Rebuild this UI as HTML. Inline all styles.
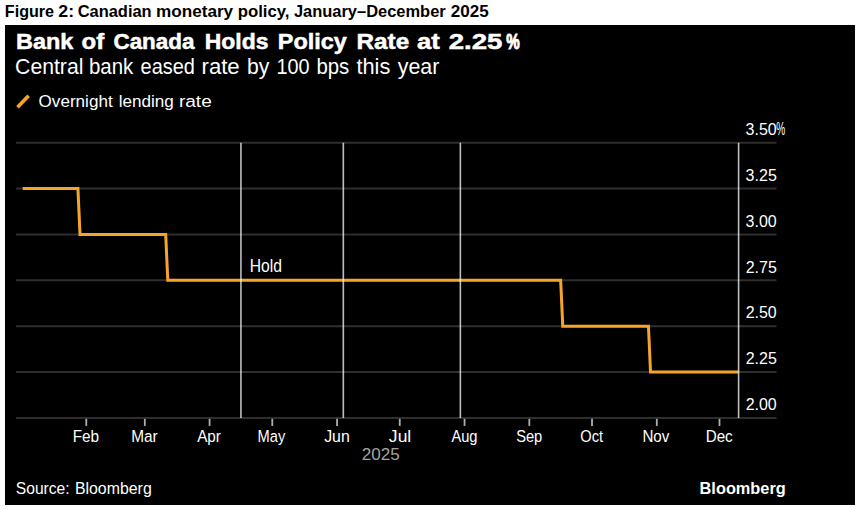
<!DOCTYPE html><html><head><meta charset="utf-8"><style>html,body{margin:0;padding:0;background:#fff;width:861px;height:510px;overflow:hidden}svg{display:block}text{font-family:"Liberation Sans",sans-serif}</style></head><body>
<svg width="861" height="510" viewBox="0 0 861 510">
<rect x="0" y="0" width="861" height="510" fill="#fff"/>
<rect x="5" y="25" width="850" height="480" fill="#000"/>
<line x1="17.5" y1="107.2" x2="28.6" y2="95.7" stroke="#f7a42b" stroke-width="3.6"/>
<line x1="16" y1="142.70" x2="776.5" y2="142.70" stroke="#2e2e2e" stroke-width="2"/>
<line x1="16" y1="188.57" x2="776.5" y2="188.57" stroke="#2e2e2e" stroke-width="2"/>
<line x1="16" y1="234.44" x2="776.5" y2="234.44" stroke="#2e2e2e" stroke-width="2"/>
<line x1="16" y1="280.31" x2="776.5" y2="280.31" stroke="#2e2e2e" stroke-width="2"/>
<line x1="16" y1="326.18" x2="776.5" y2="326.18" stroke="#2e2e2e" stroke-width="2"/>
<line x1="16" y1="372.05" x2="776.5" y2="372.05" stroke="#2e2e2e" stroke-width="2"/>
<line x1="16" y1="417.92" x2="776.5" y2="417.92" stroke="#2e2e2e" stroke-width="2"/>
<line x1="86.28" y1="418.82" x2="86.28" y2="425.92" stroke="#b0b0b0" stroke-width="1.8"/>
<line x1="144.80" y1="418.82" x2="144.80" y2="425.92" stroke="#b0b0b0" stroke-width="1.8"/>
<line x1="209.58" y1="418.82" x2="209.58" y2="425.92" stroke="#b0b0b0" stroke-width="1.8"/>
<line x1="272.28" y1="418.82" x2="272.28" y2="425.92" stroke="#b0b0b0" stroke-width="1.8"/>
<line x1="337.06" y1="418.82" x2="337.06" y2="425.92" stroke="#b0b0b0" stroke-width="1.8"/>
<line x1="399.75" y1="418.82" x2="399.75" y2="425.92" stroke="#b0b0b0" stroke-width="1.8"/>
<line x1="464.54" y1="418.82" x2="464.54" y2="425.92" stroke="#b0b0b0" stroke-width="1.8"/>
<line x1="529.32" y1="418.82" x2="529.32" y2="425.92" stroke="#b0b0b0" stroke-width="1.8"/>
<line x1="592.02" y1="418.82" x2="592.02" y2="425.92" stroke="#b0b0b0" stroke-width="1.8"/>
<line x1="656.80" y1="418.82" x2="656.80" y2="425.92" stroke="#b0b0b0" stroke-width="1.8"/>
<line x1="719.49" y1="418.82" x2="719.49" y2="425.92" stroke="#b0b0b0" stroke-width="1.8"/>
<polyline points="22.70,188.57 77.92,188.57 80.01,234.44 165.70,234.44 167.79,280.31 560.67,280.31 562.76,326.18 648.44,326.18 650.53,372.05 738.50,372.05" fill="none" stroke="#f7a42b" stroke-width="3.0" stroke-linejoin="miter" stroke-linecap="butt"/>
<line x1="240.93" y1="142.70" x2="240.93" y2="417.92" stroke="#fff" stroke-opacity="0.74" stroke-width="1.6"/>
<line x1="343.33" y1="142.70" x2="343.33" y2="417.92" stroke="#fff" stroke-opacity="0.74" stroke-width="1.6"/>
<line x1="460.36" y1="142.70" x2="460.36" y2="417.92" stroke="#fff" stroke-opacity="0.74" stroke-width="1.6"/>
<line x1="738.6" y1="142.70" x2="738.6" y2="417.92" stroke="#fff" stroke-opacity="0.74" stroke-width="1.6"/>
<text x="4.80" y="16.70" font-size="17.00" font-weight="bold" fill="#000" textLength="49.30" lengthAdjust="spacingAndGlyphs">Figure</text>
<text x="58.33" y="16.70" font-size="17.00" font-weight="bold" fill="#000" textLength="15.74" lengthAdjust="spacingAndGlyphs">2:</text>
<text x="77.63" y="16.70" font-size="17.00" font-weight="bold" fill="#000" textLength="74.06" lengthAdjust="spacingAndGlyphs">Canadian</text>
<text x="155.96" y="16.70" font-size="17.00" font-weight="bold" fill="#000" textLength="77.18" lengthAdjust="spacingAndGlyphs">monetary</text>
<text x="237.65" y="16.70" font-size="17.00" font-weight="bold" fill="#000" textLength="51.88" lengthAdjust="spacingAndGlyphs">policy,</text>
<text x="293.89" y="16.70" font-size="17.00" font-weight="bold" fill="#000" textLength="151.83" lengthAdjust="spacingAndGlyphs">January–December</text>
<text x="450.87" y="16.70" font-size="17.00" font-weight="bold" fill="#000" textLength="37.96" lengthAdjust="spacingAndGlyphs">2025</text>
<text x="16.02" y="48.90" font-size="21.50" font-weight="bold" fill="#fff" stroke="#fff" stroke-width="0.5" textLength="57.41" lengthAdjust="spacingAndGlyphs">Bank</text>
<text x="81.59" y="48.90" font-size="21.50" font-weight="bold" fill="#fff" stroke="#fff" stroke-width="0.5" textLength="22.58" lengthAdjust="spacingAndGlyphs">of</text>
<text x="113.46" y="48.90" font-size="21.50" font-weight="bold" fill="#fff" stroke="#fff" stroke-width="0.5" textLength="80.98" lengthAdjust="spacingAndGlyphs">Canada</text>
<text x="204.77" y="48.90" font-size="21.50" font-weight="bold" fill="#fff" stroke="#fff" stroke-width="0.5" textLength="63.70" lengthAdjust="spacingAndGlyphs">Holds</text>
<text x="277.83" y="48.90" font-size="21.50" font-weight="bold" fill="#fff" stroke="#fff" stroke-width="0.5" textLength="68.98" lengthAdjust="spacingAndGlyphs">Policy</text>
<text x="356.49" y="48.90" font-size="21.50" font-weight="bold" fill="#fff" stroke="#fff" stroke-width="0.5" textLength="52.67" lengthAdjust="spacingAndGlyphs">Rate</text>
<text x="416.95" y="48.90" font-size="21.50" font-weight="bold" fill="#fff" stroke="#fff" stroke-width="0.5" textLength="22.84" lengthAdjust="spacingAndGlyphs">at</text>
<text x="448.71" y="48.90" font-size="21.50" font-weight="bold" fill="#fff" stroke="#fff" stroke-width="0.5" textLength="53.70" lengthAdjust="spacingAndGlyphs">2.25</text>
<text x="506.34" y="48.90" font-size="21.50" font-weight="bold" fill="#fff" stroke="#fff" stroke-width="1.1" textLength="13.44" lengthAdjust="spacingAndGlyphs">%</text>
<text x="15.10" y="73.60" font-size="21.80" font-weight="normal" fill="#fff" textLength="68.33" lengthAdjust="spacingAndGlyphs">Central</text>
<text x="88.93" y="73.60" font-size="21.80" font-weight="normal" fill="#fff" textLength="44.32" lengthAdjust="spacingAndGlyphs">bank</text>
<text x="140.60" y="73.60" font-size="21.80" font-weight="normal" fill="#fff" textLength="54.36" lengthAdjust="spacingAndGlyphs">eased</text>
<text x="201.50" y="73.60" font-size="21.80" font-weight="normal" fill="#fff" textLength="38.19" lengthAdjust="spacingAndGlyphs">rate</text>
<text x="247.01" y="73.60" font-size="21.80" font-weight="normal" fill="#fff" textLength="22.38" lengthAdjust="spacingAndGlyphs">by</text>
<text x="276.56" y="73.60" font-size="21.80" font-weight="normal" fill="#fff" textLength="33.09" lengthAdjust="spacingAndGlyphs">100</text>
<text x="316.46" y="73.60" font-size="21.80" font-weight="normal" fill="#fff" textLength="32.87" lengthAdjust="spacingAndGlyphs">bps</text>
<text x="356.38" y="73.60" font-size="21.80" font-weight="normal" fill="#fff" textLength="33.97" lengthAdjust="spacingAndGlyphs">this</text>
<text x="397.73" y="73.60" font-size="21.80" font-weight="normal" fill="#fff" textLength="41.56" lengthAdjust="spacingAndGlyphs">year</text>
<text x="38.58" y="106.80" font-size="17.10" font-weight="normal" fill="#fff" textLength="74.07" lengthAdjust="spacingAndGlyphs">Overnight</text>
<text x="118.81" y="106.80" font-size="17.10" font-weight="normal" fill="#fff" textLength="55.07" lengthAdjust="spacingAndGlyphs">lending</text>
<text x="178.92" y="106.80" font-size="17.10" font-weight="normal" fill="#fff" textLength="32.87" lengthAdjust="spacingAndGlyphs">rate</text>
<text x="15.78" y="493.80" font-size="16.70" font-weight="normal" fill="#fff" textLength="53.89" lengthAdjust="spacingAndGlyphs">Source:</text>
<text x="74.89" y="493.80" font-size="16.70" font-weight="normal" fill="#fff" textLength="76.88" lengthAdjust="spacingAndGlyphs">Bloomberg</text>
<text x="699.58" y="494.00" font-size="16.10" font-weight="bold" fill="#fff" textLength="86.18" lengthAdjust="spacingAndGlyphs">Bloomberg</text>
<text x="249.67" y="271.50" font-size="17.60" font-weight="normal" fill="#fff" textLength="32.23" lengthAdjust="spacingAndGlyphs">Hold</text>
<text x="361.65" y="459.90" font-size="17.20" font-weight="normal" fill="#a4a4a4" textLength="38.00" lengthAdjust="spacingAndGlyphs">2025</text>
<text x="72.68" y="441.70" font-size="17.20" font-weight="normal" fill="#fff" textLength="26.41" lengthAdjust="spacingAndGlyphs">Feb</text>
<text x="131.22" y="441.70" font-size="17.20" font-weight="normal" fill="#fff" textLength="26.51" lengthAdjust="spacingAndGlyphs">Mar</text>
<text x="197.18" y="441.70" font-size="17.20" font-weight="normal" fill="#fff" textLength="23.78" lengthAdjust="spacingAndGlyphs">Apr</text>
<text x="257.54" y="441.70" font-size="17.20" font-weight="normal" fill="#fff" textLength="27.69" lengthAdjust="spacingAndGlyphs">May</text>
<text x="324.17" y="441.70" font-size="17.20" font-weight="normal" fill="#fff" textLength="25.63" lengthAdjust="spacingAndGlyphs">Jun</text>
<text x="388.89" y="441.70" font-size="17.20" font-weight="normal" fill="#fff" textLength="22.39" lengthAdjust="spacingAndGlyphs">Jul</text>
<text x="451.43" y="441.70" font-size="17.20" font-weight="normal" fill="#fff" textLength="26.12" lengthAdjust="spacingAndGlyphs">Aug</text>
<text x="516.13" y="441.70" font-size="17.20" font-weight="normal" fill="#fff" textLength="26.15" lengthAdjust="spacingAndGlyphs">Sep</text>
<text x="580.32" y="441.70" font-size="17.20" font-weight="normal" fill="#fff" textLength="22.86" lengthAdjust="spacingAndGlyphs">Oct</text>
<text x="642.38" y="441.70" font-size="17.20" font-weight="normal" fill="#fff" textLength="26.92" lengthAdjust="spacingAndGlyphs">Nov</text>
<text x="705.69" y="441.70" font-size="17.20" font-weight="normal" fill="#fff" textLength="26.99" lengthAdjust="spacingAndGlyphs">Dec</text>
<text x="745.61" y="135.00" font-size="17.30" font-weight="normal" fill="#fff" textLength="31.15" lengthAdjust="spacingAndGlyphs">3.50</text>
<text x="745.61" y="180.87" font-size="17.30" font-weight="normal" fill="#fff" textLength="31.22" lengthAdjust="spacingAndGlyphs">3.25</text>
<text x="745.61" y="226.74" font-size="17.30" font-weight="normal" fill="#fff" textLength="31.15" lengthAdjust="spacingAndGlyphs">3.00</text>
<text x="745.68" y="272.61" font-size="17.30" font-weight="normal" fill="#fff" textLength="31.13" lengthAdjust="spacingAndGlyphs">2.75</text>
<text x="745.66" y="318.48" font-size="17.30" font-weight="normal" fill="#fff" textLength="31.10" lengthAdjust="spacingAndGlyphs">2.50</text>
<text x="745.68" y="364.35" font-size="17.30" font-weight="normal" fill="#fff" textLength="31.13" lengthAdjust="spacingAndGlyphs">2.25</text>
<text x="745.66" y="410.22" font-size="17.30" font-weight="normal" fill="#fff" textLength="31.10" lengthAdjust="spacingAndGlyphs">2.00</text>
<text x="776.15" y="135.00" font-size="18.50" font-weight="normal" fill="#fff" textLength="8.93" lengthAdjust="spacingAndGlyphs">%</text>
</svg></body></html>
